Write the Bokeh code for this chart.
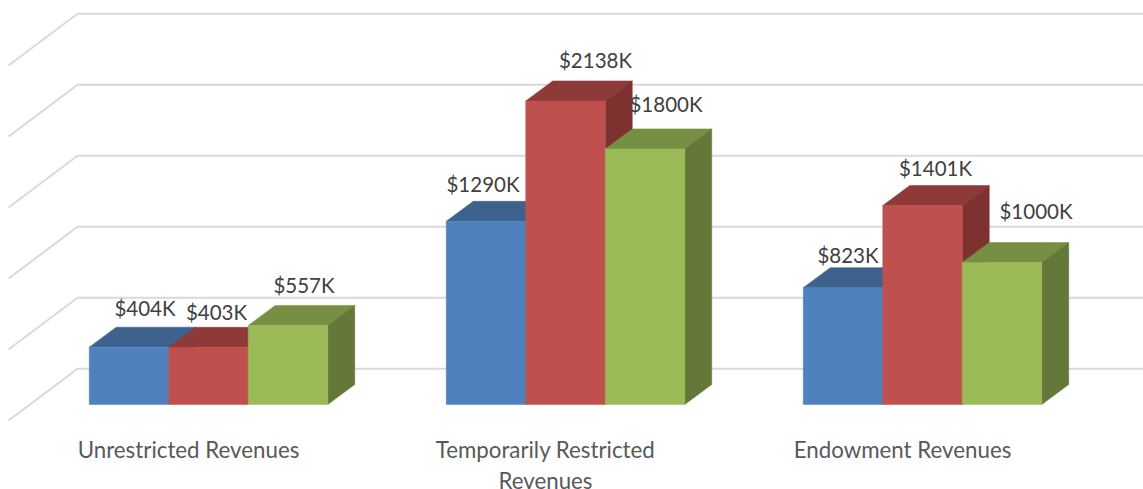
from bokeh.plotting import figure
from bokeh.models import Range1d
from bokeh.core.properties import value
from bokeh.embed import file_html
from bokeh.resources import INLINE

categories = ["Unrestricted Revenues", "Temporarily Restricted\nRevenues", "Endowment Revenues"]
series_blue = [404, 1290, 823]
series_red = [403, 2138, 1401]
series_green = [557, 1800, 1000]
grid_values = [0, 500, 1000, 1500, 2000, 2500]

colors_blue = ("#4F81BD", "#3D628E", "#355680")
colors_red = ("#C0504D", "#8E3A38", "#7E3230")
colors_green = ("#9BBB59", "#778F42", "#64783A")

# layout, in picture pixels
W, H, ML, MT = 1143, 489, 0, 0
FLOOR = 404.0
PX_PER_K = 0.142
GROUP_STEP = 357.0
FIRST_CENTER = 208.0
BAR_PX = 79.5
DEPTH_X_PX, DEPTH_Y_PX = 27.0, 20.0
WALL_Y = 368.3
WALL_FRONT_Y = 420.0
WALL_X0, WALL_X1, WALL_X2 = 8.0, 77.0, 1143.0


def dx(px):
    return px / GROUP_STEP


def dy(px):
    return px / PX_PER_K


def xp(px):
    return (px - FIRST_CENTER) / GROUP_STEP


p = figure(
    width=W, height=H, toolbar_location=None, output_backend="svg",
    x_range=Range1d(xp(ML), xp(ML + W)),
    y_range=Range1d((FLOOR - (MT + H)) / PX_PER_K, (FLOOR - MT) / PX_PER_K),
    min_border=0, outline_line_color=None,
)
p.axis.visible = False
p.grid.visible = False

wall_back = dy(FLOOR - WALL_Y)
wall_front = dy(FLOOR - WALL_FRONT_Y)
p.multi_line(
    xs=[[xp(WALL_X0), xp(WALL_X1), xp(WALL_X2)] for _ in grid_values],
    ys=[[v + wall_front, v + wall_back, v + wall_back] for v in grid_values],
    line_color="#D9D9D9", line_width=2,
)

bw, ddx, ddy = dx(BAR_PX), dx(DEPTH_X_PX), dy(DEPTH_Y_PX)
all_series = [(series_blue, colors_blue), (series_red, colors_red), (series_green, colors_green)]
for s, (vals, (front, top, side)) in enumerate(all_series):
    for c, v in enumerate(vals):
        left = c + (s - 1.5) * bw
        right = left + bw
        p.patch([left, right, right + ddx, left + ddx], [v, v, v + ddy, v + ddy],
                fill_color=top, line_color=top, line_width=0.5)
        p.patch([right, right + ddx, right + ddx, right], [0, ddy, v + ddy, v],
                fill_color=side, line_color=side, line_width=0.5)
        p.quad(left=left, right=right, bottom=0, top=v,
               fill_color=front, line_color=front, line_width=0.5)

# value labels: offsets from the bar's top centre, in pixels
label_dx = [[16, 8, 16], [-3, 30, 21], [5, 13, 34]]
label_dy = [[-39, -35, -40], [-37, -41, -45], [-33, -38, -52]]
lx, ly, lt, lox, loy = [], [], [], [], []
for s, (vals, _) in enumerate(all_series):
    for c, v in enumerate(vals):
        lx.append(c + (s - 1) * bw)
        ly.append(v)
        lt.append(f"${v}K")
        lox.append(label_dx[c][s])
        loy.append(label_dy[c][s])
p.text(x=lx, y=ly, text=lt, x_offset=lox, y_offset=loy, text_align="center",
       text_baseline="middle", text_font=value("Lato"), text_font_size="20.5px",
       text_color="#404040")

p.text(x=[c + dx(-20) for c in range(len(categories))], y=[dy(FLOOR - 450)] * 3, text=categories,
       text_align="center", text_baseline="top", y_offset=-15,
       text_font=value("Lato"), text_font_size="22.3px", text_color="#595959", text_line_height=1.15)

html = file_html(p, INLINE).replace("<head>", "<head><style>html,body{margin:0;padding:0;overflow:hidden}</style>", 1)
open("out.html", "w").write(html)
